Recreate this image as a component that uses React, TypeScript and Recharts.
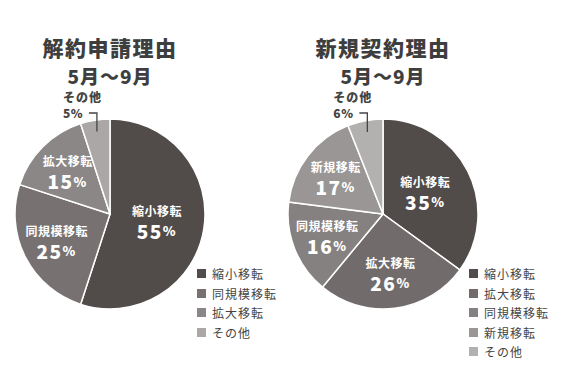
import { PieChart, Pie, Cell, Legend } from 'recharts'

const FONT = '"Noto Sans CJK JP", "Noto Sans", sans-serif'
const RAD = Math.PI / 180

// 解約申請理由
const cancelNames = ['縮小移転', '同規模移転', '拡大移転', 'その他']
const cancelValues = [55, 25, 15, 5]
const cancelColors = ['#514b4a', '#777271', '#8b8786', '#aaa7a6']

// 新規契約理由
const newNames = ['縮小移転', '拡大移転', '同規模移転', '新規移転', 'その他']
const newValues = [35, 26, 16, 17, 6]
const newColors = ['#514b4a', '#716c6b', '#858180', '#999695', '#b3b1b0']

const renderLabel = (props: any) => {
  const { cx, cy, midAngle, outerRadius, index, name, value } = props
  const cos = Math.cos(-midAngle * RAD)
  const sin = Math.sin(-midAngle * RAD)

  // small "その他" slice gets an outside label with a bracket leader
  if (name === 'その他') {
    const px = cx + outerRadius * 0.88 * cos
    const py = cy + outerRadius * 0.88 * sin
    const topY = cy - outerRadius - 6
    return (
      <g>
        <path
          d={`M${px},${py} L${px},${topY} L${px - 8},${topY}`}
          stroke="#444"
          strokeWidth={1.3}
          fill="none"
        />
        <text x={px - 34} y={cy - outerRadius - 17} fill="#444" fontSize={12} fontWeight={900} fontFamily={FONT} letterSpacing={1}>
          {name}
        </text>
        <text x={px - 34} y={cy - outerRadius - 1} fill="#444" fontSize={12} fontWeight={900} fontFamily={FONT} letterSpacing={0.5}>
          {value}%
        </text>
      </g>
    )
  }

  const r = outerRadius * (index === 0 ? 0.5 : 0.63)
  const x = cx + r * cos
  const y = cy + r * sin
  return (
    <g fill="#fff" fontFamily={FONT} fontWeight={700} textAnchor="middle">
      <text x={x} y={y - 11} fontSize={12} dominantBaseline="central" letterSpacing={0.5}>
        {name}
      </text>
      <text x={x} y={y + 9} fontSize={19} fontWeight={900} dominantBaseline="central" letterSpacing={1.5}>
        {value}
        <tspan fontSize={13}>%</tspan>
      </text>
    </g>
  )
}

// keep legend in data order
const makeLegend = (order: string[]) => (props: any) => {
  const items = [...(props.payload || [])].sort(
    (a: any, b: any) => order.indexOf(a.value) - order.indexOf(b.value)
  )
  return (
    <div style={{ fontFamily: FONT }}>
      {items.map((entry: any) => (
        <div
          key={entry.value}
          style={{ display: 'flex', alignItems: 'center', height: 19.5, fontSize: 12, color: '#444', letterSpacing: 1 }}
        >
          <span style={{ display: 'inline-block', width: 9, height: 9, background: entry.color, marginRight: 6 }} />
          {entry.value}
        </div>
      ))}
    </div>
  )
}

interface ReasonPieProps {
  title: string
  names: string[]
  values: number[]
  colors: string[]
  left: number
  cx: number
  legendLeft: number
}

function ReasonPie({ title, names, values, colors, left, cx, legendLeft }: ReasonPieProps) {
  const data = names.map((name, i) => ({ name, value: values[i], fill: colors[i] }))
  return (
    <div style={{ position: 'absolute', left, top: 0, width: 281, height: 392 }}>
      <div
        style={{
          position: 'absolute',
          left: cx - 100,
          top: 37,
          width: 200,
          textAlign: 'center',
          fontFamily: FONT,
          fontWeight: 900,
          color: '#3e3e3e',
          lineHeight: 1,
        }}
      >
        <div style={{ fontSize: 21, letterSpacing: 1.5 }}>{title}</div>
        <div style={{ fontSize: 19, marginTop: 8, letterSpacing: 1 }}>5月～9月</div>
      </div>
      <PieChart width={281} height={392} margin={{ top: 0, right: 0, bottom: 0, left: 0 }}>
        <Pie
          data={data}
          dataKey="value"
          nameKey="name"
          cx={cx}
          cy={214}
          outerRadius={95}
          startAngle={90}
          endAngle={-270}
          stroke="#fff"
          strokeWidth={1.5}
          label={renderLabel}
          labelLine={false}
          isAnimationActive={false}
        >
          {data.map((d) => (
            <Cell key={d.name} fill={d.fill} />
          ))}
        </Pie>
        <Legend
          layout="vertical"
          align="right"
          verticalAlign="bottom"
          content={makeLegend(names)}
          wrapperStyle={{ left: legendLeft, top: 264, width: 100, right: 'auto', bottom: 'auto' }}
        />
      </PieChart>
    </div>
  )
}

export default function App() {
  return (
    <div style={{ position: 'absolute', left: 0, top: 0, width: 561, height: 392, background: '#fff' }}>
      <ReasonPie title="解約申請理由" names={cancelNames} values={cancelValues} colors={cancelColors} left={0} cx={110} legendLeft={197} />
      <ReasonPie title="新規契約理由" names={newNames} values={newValues} colors={newColors} left={280} cx={103} legendLeft={189} />
    </div>
  )
}
